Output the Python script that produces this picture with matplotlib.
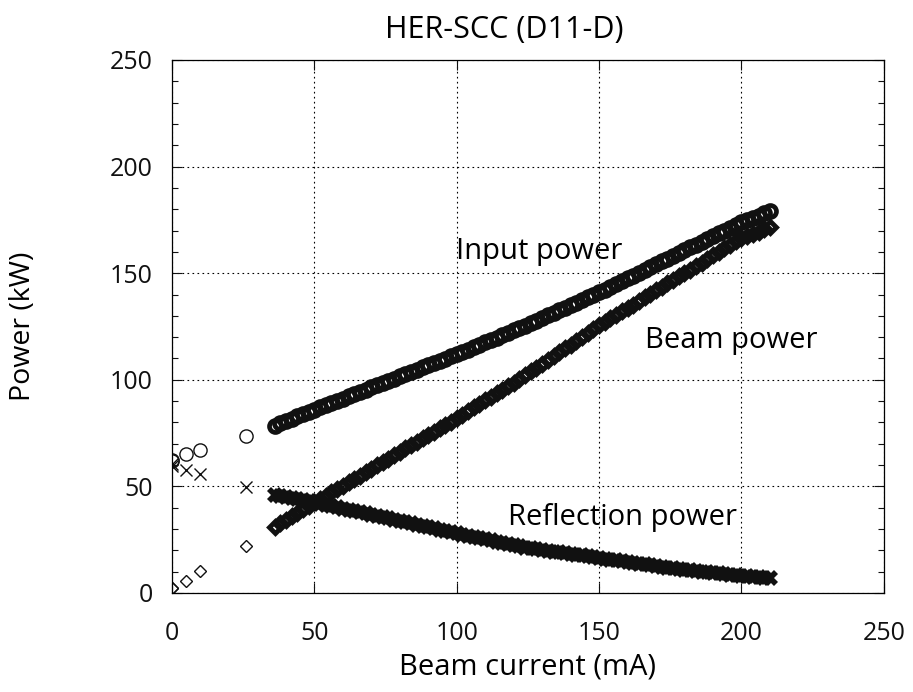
import matplotlib.pyplot as plt
from matplotlib.ticker import MultipleLocator

plt.rcParams['font.family'] = ['Open Sans', 'DejaVu Sans']

# low-current points taken before the ramp
low_current = [0, 0, 5, 10, 26]
low_input = [62.4, 62.0, 65.0, 67.0, 73.8]
low_beam = [2.2, 2.5, 5.6, 10.3, 22.2]
low_refl = [59.5, 60.5, 57.7, 55.8, 49.9]

# ramp from 36 mA to 210 mA, every 2 mA
current = [36, 38, 40, 42, 44, 46, 48, 50, 52, 54, 56, 58, 60, 62, 64, 66, 68, 70,
           72, 74, 76, 78, 80, 82, 84, 86, 88, 90, 92, 94, 96, 98, 100, 102, 104,
           106, 108, 110, 112, 114, 116, 118, 120, 122, 124, 126, 128, 130, 132,
           134, 136, 138, 140, 142, 144, 146, 148, 150, 152, 154, 156, 158, 160,
           162, 164, 166, 168, 170, 172, 174, 176, 178, 180, 182, 184, 186, 188,
           190, 192, 194, 196, 198, 200, 202, 204, 206, 208, 210]

input_power = [78.5, 79.5, 80.6, 81.7, 82.8, 83.8, 84.9, 86.0, 87.0, 88.1, 89.1,
               90.2, 91.2, 92.2, 93.3, 94.3, 95.4, 96.4, 97.4, 98.5, 99.5, 100.6,
               101.6, 102.6, 103.7, 104.7, 105.8, 106.8, 107.8, 108.9, 109.9, 111.0,
               112.0, 113.1, 114.2, 115.4, 116.5, 117.6, 118.7, 119.8, 121.0, 122.1,
               123.2, 124.3, 125.4, 126.6, 127.8, 129.0, 130.2, 131.4, 132.6, 133.8,
               135.0, 136.2, 137.4, 138.6, 139.8, 141.0, 142.3, 143.6, 145.0, 146.3,
               147.6, 148.9, 150.2, 151.6, 152.9, 154.2, 155.5, 156.8, 158.2, 159.5,
               160.8, 162.1, 163.4, 164.8, 166.1, 167.4, 168.7, 170.0, 171.4, 172.7,
               174.0, 175.0, 176.0, 177.0, 178.0, 179.0]

beam_power = [31.0, 32.6, 34.3, 35.9, 37.6, 39.2, 40.9, 42.5, 44.1, 45.7, 47.2,
              48.8, 50.4, 52.0, 53.6, 55.1, 56.7, 58.3, 59.9, 61.5, 63.0, 64.6,
              66.2, 67.8, 69.4, 70.9, 72.5, 74.1, 75.7, 77.3, 78.8, 80.4, 82.0,
              83.7, 85.3, 87.0, 88.6, 90.3, 91.9, 93.6, 95.2, 96.9, 98.5, 100.3,
              102.1, 103.9, 105.7, 107.5, 109.3, 111.1, 112.9, 114.7, 116.5, 118.3,
              120.1, 121.9, 123.7, 125.5, 127.1, 128.8, 130.4, 132.1, 133.7, 135.3,
              137.0, 138.6, 140.3, 141.9, 143.5, 145.2, 146.8, 148.5, 150.1, 151.7,
              153.4, 155.0, 156.7, 158.3, 159.9, 161.6, 163.2, 164.9, 166.5, 167.5,
              168.5, 169.5, 170.5, 171.5]

refl_power = [46.0, 45.5, 45.0, 44.5, 44.0, 43.5, 43.0, 42.5, 41.9, 41.3, 40.8,
              40.2, 39.6, 39.0, 38.4, 37.9, 37.3, 36.7, 36.1, 35.5, 35.0, 34.4,
              33.8, 33.2, 32.6, 32.1, 31.5, 30.9, 30.3, 29.7, 29.2, 28.6, 28.0,
              27.4, 26.9, 26.3, 25.8, 25.2, 24.7, 24.1, 23.5, 23.0, 22.4, 21.9,
              21.3, 20.9, 20.5, 20.1, 19.8, 19.4, 19.1, 18.7, 18.3, 18.0, 17.6,
              17.2, 16.9, 16.5, 16.1, 15.7, 15.3, 14.9, 14.5, 14.1, 13.8, 13.4,
              13.0, 12.6, 12.2, 11.8, 11.5, 11.2, 10.9, 10.6, 10.3, 10.0, 9.7,
              9.4, 9.2, 8.9, 8.6, 8.3, 8.0, 7.8, 7.6, 7.4, 7.2, 7.0]

fig = plt.figure(figsize=(9.13, 6.92), dpi=100)
ax = fig.add_axes([0.1884, 0.1431, 0.7796, 0.7702])

style = dict(linestyle='none', markerfacecolor='none', markeredgecolor='#111111')
ax.plot(current, input_power, marker='o', markersize=8.6, markeredgewidth=3.4, **style)
ax.plot(current, beam_power, marker='D', markersize=6.2, markeredgewidth=3.5, **style)
ax.plot(current, refl_power, marker='x', markersize=8.8, markeredgewidth=4.1, **style)

ax.plot(low_current, low_input, marker='o', markersize=9.5, markeredgewidth=1.0, **style)
ax.plot(low_current, low_beam, marker='D', markersize=6.0, markeredgewidth=1.0, **style)
ax.plot(low_current, low_refl, marker='x', markersize=8.0, markeredgewidth=1.0, **style)

ax.set_xlim(0, 250)
ax.set_ylim(0, 250)
ax.xaxis.set_major_locator(MultipleLocator(50))
ax.yaxis.set_major_locator(MultipleLocator(50))
ax.yaxis.set_minor_locator(MultipleLocator(10))
ax.tick_params(which='both', direction='in', top=True, right=True,
               labelsize=18, colors='#111111')
ax.tick_params(axis='x', pad=20)
ax.tick_params(axis='y', pad=14)
ax.tick_params(which='major', length=7, width=0.8)
ax.tick_params(which='minor', length=4, width=0.8)
for s in ax.spines.values():
    s.set_linewidth(0.9)
ax.grid(True, which='major', linestyle=(0, (1.5, 3)), color='black', linewidth=0.8)
ax.set_axisbelow(True)

ax.set_xlabel('Beam current (mA)', fontsize=21, labelpad=5)
ax.set_ylabel('Power (kW)', fontsize=20.5, labelpad=52)
fig.text(0.552, 0.957, 'HER-SCC (D11-D)', ha='center', va='center', fontsize=22)

ax.text(129, 160, 'Input power', ha='center', va='center', fontsize=21)
ax.text(196.5, 118.5, 'Beam power', ha='center', va='center', fontsize=21)
ax.text(158.2, 35.6, 'Reflection power', ha='center', va='center', fontsize=21)

fig.savefig('out.png', dpi=100)
